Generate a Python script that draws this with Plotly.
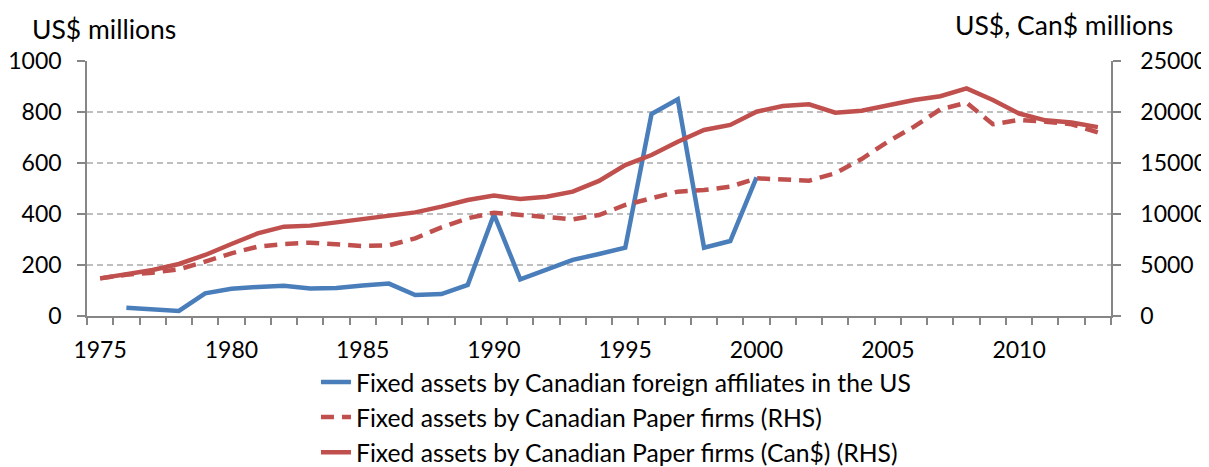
import plotly.graph_objects as go

years = list(range(1975, 2014))

# Fixed assets by Canadian foreign affiliates in the US (US$ millions, LHS), 1976-2000
affiliates_us = [None, 32, 24, 20, 89, 107, 114, 119, 108, 110, 120, 127, 82, 86, 122, 398,
                 144, 180, 220, 243, 268, 792, 850, 268, 294, 544] + [None] * 13

# Fixed assets by Canadian Paper firms, US$ (RHS)
paper_usd = [3690, 4050, 4250, 4580, 5330, 6140, 6800, 7060, 7190, 7030, 6860, 6930, 7610,
             8690, 9580, 10130, 9900, 9670, 9480, 9900, 10880, 11540, 12190, 12350, 12680,
             13500, 13330, 13270, 13990, 15390, 17090, 18560, 20260, 20910, 18800, 19220,
             19050, 18800, 18000]

# Fixed assets by Canadian Paper firms, Can$ (RHS)
paper_cad = [3690, 4085, 4510, 5100, 5980, 7060, 8100, 8760, 8860, 9180, 9540, 9800, 10160,
             10720, 11370, 11800, 11470, 11700, 12190, 13240, 14800, 15780, 17090, 18240,
             18730, 20030, 20590, 20750, 19930, 20130, 20690, 21180, 21550, 22320, 21180,
             19850, 19180, 18970, 18520]

names = ["Fixed assets by Canadian foreign affiliates in the US",
         "Fixed assets by Canadian Paper firms (RHS)",
         "Fixed assets by Canadian Paper firms (Can$) (RHS)"]

label_years = [1975, 1980, 1985, 1990, 1995, 2000, 2005, 2010]
left_ticks = [0, 200, 400, 600, 800, 1000]
right_ticks = [0, 5000, 10000, 15000, 20000, 25000]

BLUE = "#4A7EBB"
RED = "#C0504D"
AXIS = "#868686"
GRID = "#BFBFBF"
FONT = "Lato"

fig = go.Figure()
fig.add_trace(go.Scatter(x=years, y=affiliates_us, name=names[0], mode="lines",
                         line=dict(color=BLUE, width=4.5), legendgroup="a",
                         connectgaps=False))
fig.add_trace(go.Scatter(x=years, y=paper_usd, name=names[1], mode="lines",
                         line=dict(color=RED, width=4.5, dash="13px,8px"), yaxis="y2",
                         legendgroup="b"))
fig.add_trace(go.Scatter(x=years, y=paper_cad, name=names[2], mode="lines",
                         line=dict(color=RED, width=4.5), yaxis="y2", legendgroup="c"))

fig.update_layout(
    width=1201, height=459,
    margin=dict(l=79, r=98, t=53, b=151, autoexpand=False),
    paper_bgcolor="white", plot_bgcolor="white",
    font=dict(family=FONT, size=23, color="black"),
    showlegend=True,
    legend=dict(x=0.2236, y=-0.17, xanchor="left", yanchor="top",
                traceorder="grouped", tracegroupgap=0,
                font=dict(family=FONT, size=24.7), bgcolor="rgba(0,0,0,0)"),
    xaxis=dict(range=[1974.5, 2013.5], tickmode="array", tickvals=label_years,
               ticktext=[str(y) for y in label_years], ticks="", showgrid=False,
               showline=True, linecolor=AXIS, linewidth=1.5, zeroline=False,
               ticklabelstandoff=13, automargin=False,
               tickfont=dict(family=FONT, size=23),
               minor=dict(tick0=1974.5, dtick=1, ticks="outside", ticklen=7,
                          tickcolor=AXIS, tickwidth=1.5, showgrid=False)),
    yaxis=dict(range=[0, 1000], tickmode="array", tickvals=left_ticks,
               ticktext=[str(v) for v in left_ticks],
               showgrid=True, gridcolor=GRID, griddash="6px,4px", gridwidth=1.5,
               showline=True, linecolor=AXIS, linewidth=1.5, zeroline=False,
               ticks="outside", ticklen=8, tickcolor=AXIS, tickwidth=1.5,
               ticklabelstandoff=11, automargin=False,
               tickfont=dict(family=FONT, size=23)),
    yaxis2=dict(range=[0, 25000], tickmode="array", tickvals=right_ticks,
                ticktext=[str(v) for v in right_ticks],
                overlaying="y", side="right", showgrid=False,
                showline=True, linecolor=AXIS, linewidth=1.5, zeroline=False,
                ticks="outside", ticklen=8, tickcolor=AXIS, tickwidth=1.5,
                ticklabelstandoff=15, automargin=False,
                tickfont=dict(family=FONT, size=23)),
    annotations=[
        dict(text="US$ millions", xref="paper", yref="paper", x=-0.0557, y=1.125,
             xanchor="left", yanchor="middle", showarrow=False,
             font=dict(family=FONT, size=26.5)),
        dict(text="US$, Can$ millions", xref="paper", yref="paper", x=1.0625, y=1.143,
             xanchor="right", yanchor="middle", showarrow=False,
             font=dict(family=FONT, size=26.5)),
    ],
)

fig.write_html("out.html")
